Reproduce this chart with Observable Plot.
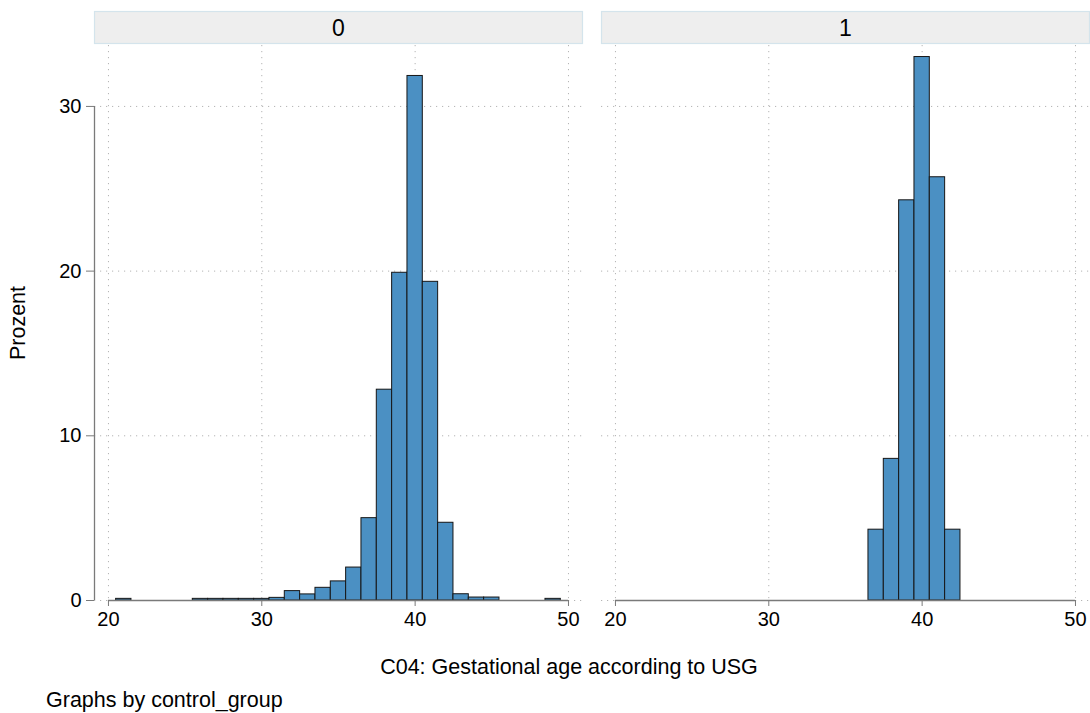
<!DOCTYPE html>
<html><head><meta charset="utf-8">
<script src="https://cdn.jsdelivr.net/npm/d3@7"></script>
<script src="https://cdn.jsdelivr.net/npm/@observablehq/plot@0.6"></script>
<style>
body{margin:0;background:#fff;font-family:"Liberation Sans",Arial,Helvetica,sans-serif;}
#chart svg{display:block;}
#note{font-size:21.5px;line-height:24px;padding-left:46px;color:#000;white-space:nowrap;}
</style>
</head><body>
<div id="chart"></div>
<div id="note"></div>
<script>
// ---- data ----
const groups = ["0", "1"];
const centers0 = [21, 26, 27, 28, 29, 30, 31, 32, 33, 34, 35, 36, 37, 38, 39, 40, 41, 42, 43, 44, 45, 49];
const percent0 = [0.1, 0.1, 0.1, 0.1, 0.1, 0.1, 0.16, 0.57, 0.37, 0.77, 1.16, 2.0, 5.0, 12.8, 19.9, 31.85, 19.35, 4.72, 0.38, 0.18, 0.18, 0.1];
const centers1 = [37, 38, 39, 40, 41, 42];
const percent1 = [4.3, 8.6, 24.3, 33.0, 25.7, 4.3];
const binWidth = 1;
const xTicks = [20, 30, 40, 50];
const yTicks = [0, 10, 20, 30];
const xDomain = [19.09, 50.98];
const yDomain = [0, 33.7];
const xTitle = "C04: Gestational age according to USG";
const yTitle = "Prozent";
const note = "Graphs by control_group";

const rows = [
  ...centers0.map((c, i) => ({g: groups[0], c, p: percent0[i]})),
  ...centers1.map((c, i) => ({g: groups[1], c, p: percent1[i]}))
];

const axisColor = "#7a7a7a";
const gridStyle = {stroke: "#b4b4b4", strokeOpacity: 1, strokeWidth: 1, strokeDasharray: "1.2,4.8"};

const chart = Plot.plot({
  width: 1090,
  height: 688,
  marginLeft: 94,
  marginRight: 0,
  marginTop: 45,
  marginBottom: 88,
  style: {fontFamily: '"Liberation Sans", Arial, Helvetica, sans-serif', fontSize: "20px", color: "#000", background: "#fff"},
  fx: {domain: groups, paddingInner: 18 / 507, paddingOuter: 0, axis: null},
  x: {domain: xDomain, axis: null},
  y: {domain: yDomain, axis: null},
  marks: [
    Plot.gridX(xTicks, gridStyle),
    Plot.gridY(yTicks, gridStyle),
    Plot.rectY(rows, {
      fx: "g",
      x1: d => d.c - binWidth / 2,
      x2: d => d.c + binWidth / 2,
      y: "p",
      fill: "#4b90c3",
      stroke: "#161616",
      strokeWidth: 1
    }),
    Plot.ruleY([yTicks[0]], {x1: xTicks[0], x2: xTicks[xTicks.length - 1], stroke: axisColor, strokeWidth: 1.3}),
    Plot.ruleX([groups[0]], {fx: d => d, x: () => xDomain[0], y1: yTicks[0], y2: yTicks[yTicks.length - 1], stroke: axisColor, strokeWidth: 1.3}),
    Plot.axisX({ticks: xTicks, tickSize: 6, tickPadding: 5, tickFormat: d => String(d), label: null, stroke: axisColor, fill: "#000", fontSize: 20}),
    Plot.axisY({ticks: yTicks, anchor: "left", tickSize: 8, tickPadding: 5, tickFormat: d => String(d), label: null, stroke: axisColor, fill: "#000", fontSize: 20})
  ]
});

document.getElementById("chart").appendChild(chart);

// strip headers, drawn from the fx scale
const fx = chart.scale("fx");
const svg = d3.select(chart);
const hdr = svg.append("g");
for (const g of groups) {
  const x0 = fx.apply(g);
  const bw = fx.bandwidth;
  hdr.append("rect").attr("x", x0 + 0.5).attr("y", 11.5).attr("width", bw - 1).attr("height", 32)
    .attr("fill", "#eeeeee").attr("stroke", "#d4e4ec").attr("stroke-width", 1.2);
  hdr.append("text").attr("x", x0 + bw / 2).attr("y", 36).attr("text-anchor", "middle")
    .attr("font-size", 23).attr("fill", "#000").text(g);
}
// axis titles
svg.append("text").attr("x", 569).attr("y", 674).attr("text-anchor", "middle")
  .attr("font-size", 21.5).attr("fill", "#000").text(xTitle);
svg.append("text").attr("transform", "translate(25,323) rotate(-90)").attr("text-anchor", "middle")
  .attr("font-size", 21.5).attr("fill", "#000").text(yTitle);

document.getElementById("note").textContent = note;
</script>
</body></html>
